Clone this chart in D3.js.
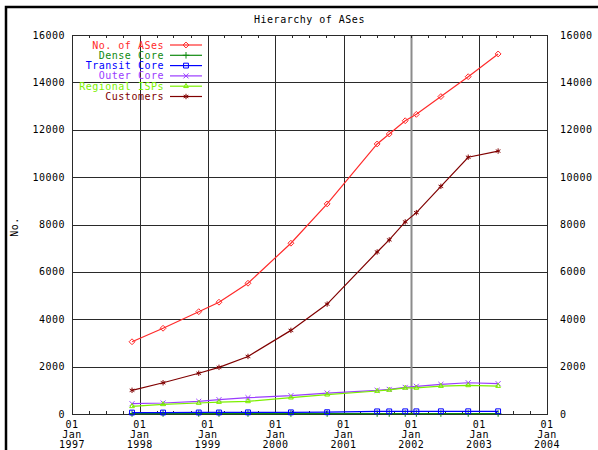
<!DOCTYPE html>
<html>
<head>
<meta charset="utf-8">
<script src="https://cdn.jsdelivr.net/npm/d3@7.9.0/dist/d3.min.js"></script>
<style>
  body { margin: 0; background: #fff; }
  svg { display: block; font-family: "DejaVu Sans Mono", monospace; font-size: 10px; letter-spacing: 0.5px; }
</style>
</head>
<body>
<div id="chart"></div>
<script>
// ------------------- Data -------------------
const dates = [
  '1997-11-20', '1998-05-06', '1998-11-14', '1999-03-03', '1999-08-06',
  '2000-03-24', '2000-10-05', '2001-07-01', '2001-09-04', '2001-11-29',
  '2002-01-28', '2002-06-09', '2002-11-03', '2003-04-13'
];
const asesCount    = [3050, 3620, 4320, 4720, 5520, 7210, 8870, 11400, 11820, 12380, 12650, 13400, 14240, 15200];
const denseCore    = [20, 20, 20, 20, 20, 20, 20, 20, 20, 20, 20, 20, 20, 20];
const transitCore  = [60, 62, 65, 65, 70, 70, 75, 110, 110, 112, 112, 115, 115, 115];
const outerCore    = [435, 465, 535, 605, 690, 775, 885, 1000, 1040, 1125, 1170, 1250, 1320, 1280];
const regionalIsps = [325, 410, 465, 505, 535, 690, 815, 970, 1015, 1100, 1100, 1180, 1210, 1180];
const customers    = [1000, 1320, 1720, 1970, 2430, 3530, 4640, 6840, 7350, 8110, 8500, 9610, 10840, 11100];

const seriesNames = ['No. of ASes', 'Dense Core', 'Transit Core', 'Outer Core', 'Regional ISPs', 'Customers'];
const seriesColors = ['#ff2a2a', '#108a10', '#0000ff', '#9a3cff', '#7cf000', '#800000'];
const yearTicks = ['1997', '1998', '1999', '2000', '2001', '2002', '2003', '2004'];

const series = [asesCount, denseCore, transitCore, outerCore, regionalIsps, customers].map((vals, i) => ({
  name: seriesNames[i],
  color: seriesColors[i],
  symbol: [d3.symbolDiamond2, d3.symbolPlus, d3.symbolSquare2, d3.symbolTimes, d3.symbolTriangle2, d3.symbolAsterisk][i],
  size: [22, 16, 30, 18, 16, 20][i],
  values: vals.map((v, j) => ({ date: new Date(dates[j] + 'T00:00'), value: v }))
}));

// ------------------- Layout -------------------
const width = 598, height = 450;
const margin = { top: 35, right: 51, bottom: 36, left: 72 };
const inner = {
  left: margin.left, right: width - margin.right,
  top: margin.top, bottom: height - margin.bottom
};

const svg = d3.select('#chart').append('svg')
  .attr('width', width).attr('height', height);

// outer frame (top + left only, clipped by picture edge)
svg.append('path')
  .attr('d', `M6,${height} V7 H${width}`)
  .attr('fill', 'none').attr('stroke', '#000').attr('stroke-width', 2.5);

const x = d3.scaleTime()
  .domain([new Date('1997-01-01T00:00'), new Date('2004-01-01T00:00')])
  .range([inner.left, inner.right]);
const y = d3.scaleLinear().domain([0, 16000]).range([inner.bottom, inner.top]);

const yearDates = yearTicks.map(d => new Date(d + '-01-01T00:00'));
const quarters = d3.timeMonth.every(3).range(x.domain()[0], x.domain()[1]);

// ------------------- Grid -------------------
const grid = svg.append('g');
grid.selectAll('line.h')
  .data(y.ticks(8))
  .join('line')
  .attr('x1', inner.left).attr('x2', inner.right)
  .attr('y1', d => Math.round(y(d)) + 0.5).attr('y2', d => Math.round(y(d)) + 0.5)
  .attr('stroke', '#2a2a2a');

grid.selectAll('line.v')
  .data(yearDates.slice(1, -1))
  .join('line')
  .attr('y1', inner.top).attr('y2', inner.bottom)
  .attr('x1', d => Math.round(x(d)) + 0.5).attr('x2', d => Math.round(x(d)) + 0.5)
  .attr('stroke', d => d.getFullYear() === 2002 ? '#8c8c8c' : '#2a2a2a')
  .attr('stroke-width', d => d.getFullYear() === 2002 ? 2 : 1);

// minor quarterly ticks, top and bottom
grid.selectAll('line.qb')
  .data(quarters)
  .join('line')
  .attr('x1', d => Math.round(x(d)) + 0.5).attr('x2', d => Math.round(x(d)) + 0.5)
  .attr('y1', inner.bottom).attr('y2', inner.bottom - 3)
  .attr('stroke', '#2a2a2a');
grid.selectAll('line.qt')
  .data(quarters)
  .join('line')
  .attr('x1', d => Math.round(x(d)) + 0.5).attr('x2', d => Math.round(x(d)) + 0.5)
  .attr('y1', inner.top).attr('y2', inner.top + 3)
  .attr('stroke', '#2a2a2a');

// border
svg.append('rect')
  .attr('x', inner.left + 0.5).attr('y', inner.top + 0.5)
  .attr('width', inner.right - inner.left).attr('height', inner.bottom - inner.top)
  .attr('fill', 'none').attr('stroke', '#2a2a2a');

// ------------------- Axes labels -------------------
svg.append('g').selectAll('text')
  .data(y.ticks(8))
  .join('text')
  .attr('x', inner.left - 7).attr('y', d => y(d))
  .attr('dy', '0.35em').attr('text-anchor', 'end')
  .text(d => d);

svg.append('g').selectAll('text')
  .data(y.ticks(8))
  .join('text')
  .attr('x', inner.right + 13).attr('y', d => y(d))
  .attr('dy', '0.35em').attr('text-anchor', 'start')
  .text(d => d);

const xLab = svg.append('g').selectAll('text')
  .data(yearDates)
  .join('text')
  .attr('text-anchor', 'middle')
  .attr('transform', d => `translate(${x(d)},${inner.bottom + 14})`);
xLab.append('tspan').attr('x', 0).attr('y', 0).text(d => d3.timeFormat('%d')(d));
xLab.append('tspan').attr('x', 0).attr('y', 10).text(d => d3.timeFormat('%b')(d));
xLab.append('tspan').attr('x', 0).attr('y', 20).text(d => d3.timeFormat('%Y')(d));

svg.append('text')
  .attr('transform', 'translate(18,227) rotate(-90)')
  .attr('text-anchor', 'middle')
  .text('No.');

svg.append('text')
  .attr('x', (inner.left + inner.right) / 2).attr('y', 23)
  .attr('text-anchor', 'middle')
  .text('Hierarchy of ASes');

// ------------------- Lines -------------------
const line = d3.line().x(d => x(d.date)).y(d => y(d.value));

const plot = svg.append('g');
series.forEach(s => {
  plot.append('path')
    .datum(s.values)
    .attr('d', line)
    .attr('fill', 'none')
    .attr('stroke', s.color)
    .attr('stroke-width', 1.2);
  plot.selectAll(null)
    .data(s.values)
    .join('path')
    .attr('transform', d => `translate(${x(d.date)},${y(d.value)})`)
    .attr('d', d3.symbol(s.symbol, s.size))
    .attr('fill', 'none')
    .attr('stroke', s.color);
});

// ------------------- Legend -------------------
const legend = svg.append('g');
series.forEach((s, i) => {
  const ly = 45 + i * 10.3;
  legend.append('text')
    .attr('x', 164).attr('y', ly).attr('dy', '0.35em')
    .attr('text-anchor', 'end')
    .attr('fill', s.color)
    .text(s.name);
  legend.append('line')
    .attr('x1', 170).attr('x2', 202)
    .attr('y1', ly).attr('y2', ly)
    .attr('stroke', s.color).attr('stroke-width', 1.2);
  legend.append('path')
    .attr('transform', `translate(186,${ly})`)
    .attr('d', d3.symbol(s.symbol, s.size))
    .attr('fill', 'none')
    .attr('stroke', s.color);
});
</script>
</body>
</html>
